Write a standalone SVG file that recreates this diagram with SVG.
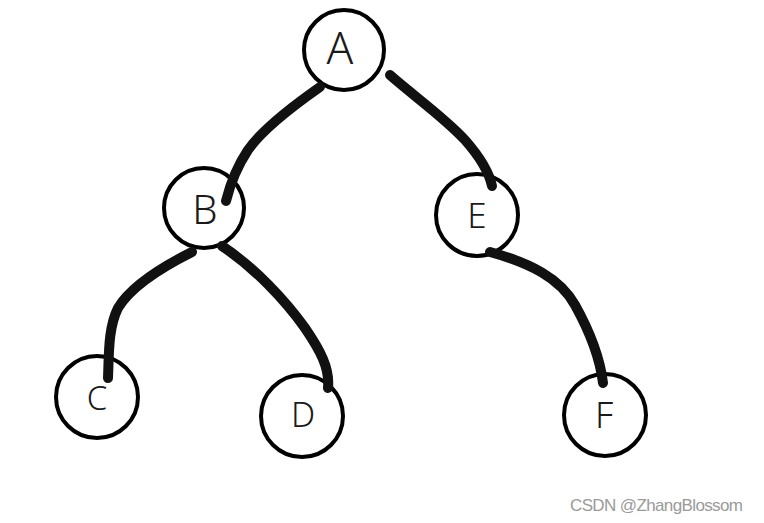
<svg xmlns="http://www.w3.org/2000/svg" width="764" height="523" viewBox="0 0 764 523">
<style>
.node circle{fill:#fff;stroke:#000;stroke-width:4}
.node text{font-family:"Noto Sans","DejaVu Sans",sans-serif;font-weight:300;fill:#1a1a1a;text-anchor:middle}
.edge{fill:none;stroke:#111;stroke-width:10;stroke-linecap:round;stroke-linejoin:round}
.wm{font-family:"Liberation Sans",Arial,sans-serif;font-size:17px;fill:#9a9a9a}
</style>
<rect width="764" height="523" fill="#fff"/>
<g id="nodes">
<g id="node-A" class="node"><circle cx="344" cy="50" r="40"/><text x="340" y="64" font-size="44">A</text></g>
<g id="node-B" class="node"><circle cx="204" cy="208" r="40"/><text x="205" y="224" font-size="40">B</text></g>
<g id="node-E" class="node"><circle cx="477" cy="215" r="41"/><text x="477" y="228" font-size="35">E</text></g>
<g id="node-C" class="node"><circle cx="97" cy="397" r="41"/><text x="97" y="410" font-size="33">C</text></g>
<g id="node-D" class="node"><circle cx="302" cy="416" r="41"/><text x="303" y="427" font-size="34">D</text></g>
<g id="node-F" class="node"><circle cx="605" cy="415" r="41"/><text x="604" y="428" font-size="36">F</text></g>
</g>
<g id="connectors">
<path class="edge" d="M320,87 C290,108 262,130 248,150 C236,168 230,185 226,201"/>
<path class="edge" d="M390,75 C415,97 445,118 465,140 C480,157 489,172 492,186"/>
<path class="edge" d="M192,252 C160,268 130,288 118,308 C108,328 109,355 108,378"/>
<path class="edge" d="M222,246 C255,268 285,300 305,328 C320,350 330,368 328,388"/>
<path class="edge" d="M490,252 C530,263 560,278 575,305 C590,332 600,358 603,383"/>
</g>
<text class="wm" x="570" y="511" textLength="173">CSDN @ZhangBlossom</text>
</svg>
